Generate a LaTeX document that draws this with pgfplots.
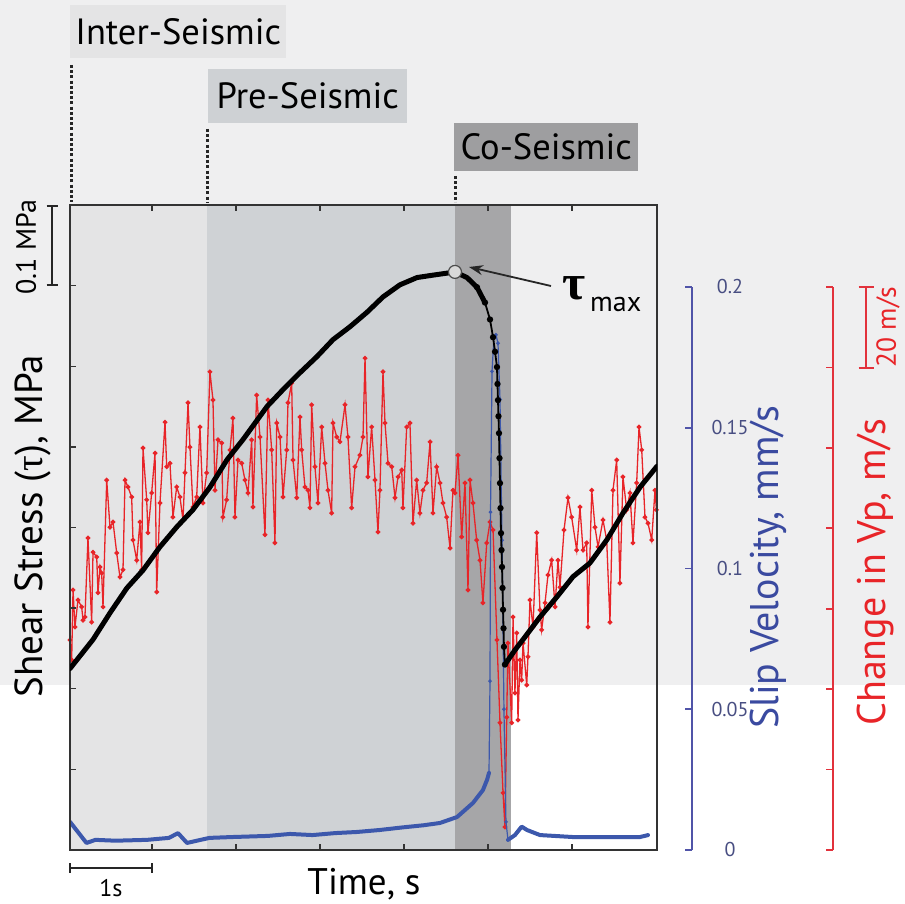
\documentclass[border=0pt]{standalone}
\usepackage{pgfplots}
\pgfplotsset{compat=1.18}
\usepackage{fontspec}
\setmainfont{PT Sans}
\newfontfamily\grk{Liberation Serif}
\usetikzlibrary{arrows.meta}
\definecolor{bgband}{RGB}{239,239,240}
\definecolor{interC}{RGB}{228,228,229}
\definecolor{preC}{RGB}{207,210,213}
\definecolor{coC}{RGB}{166,166,168}
\definecolor{interBox}{RGB}{228,228,229}
\definecolor{preBox}{RGB}{206,209,212}
\definecolor{coBox}{RGB}{158,158,160}
\definecolor{redC}{RGB}{232,36,40}
\definecolor{blueC}{RGB}{60,88,172}
\definecolor{blueAx}{RGB}{80,84,168}
\definecolor{blueLab}{RGB}{58,74,160}
\definecolor{blueTick}{RGB}{72,78,130}
\definecolor{redAx}{RGB}{226,50,60}

\pgfplotstableread{
t v
0.024 52.2
0.044 47.2
0.060 64.6
0.083 55.4
0.119 62.1
0.163 60.4
0.179 57.1
0.202 57.9
0.238 77.5
0.282 56.6
0.298 74.0
0.342 72.8
0.357 63.9
0.381 70.3
0.401 68.8
0.417 60.4
0.461 91.9
0.500 80.2
0.536 81.5
0.580 73.8
0.619 67.8
0.655 69.6
0.679 91.9
0.714 90.2
0.758 87.7
0.774 77.0
0.818 72.0
0.857 81.5
0.877 69.6
0.893 99.9
0.937 87.0
0.952 78.8
0.996 88.7
1.036 98.6
1.056 64.1
1.095 86.2
1.155 106.3
1.175 95.2
1.214 96.1
1.250 82.7
1.294 90.2
1.333 87.7
1.369 82.0
1.393 93.7
1.429 111.1
1.452 100.1
1.488 85.2
1.532 87.7
1.571 105.1
1.607 86.2
1.651 93.7
1.690 118.8
1.726 111.8
1.750 89.4
1.786 101.9
1.830 101.1
1.845 82.7
1.889 87.0
1.929 99.4
1.964 107.3
1.988 82.7
2.024 96.9
2.068 96.1
2.107 91.9
2.143 88.7
2.187 101.9
2.202 85.2
2.246 113.0
2.286 102.6
2.345 78.3
2.381 111.8
2.425 99.4
2.464 76.3
2.485 106.1
2.524 102.6
2.560 87.7
2.604 99.4
2.619 111.1
2.663 116.0
2.679 96.9
2.723 87.5
2.762 107.6
2.782 99.4
2.821 90.2
2.857 89.4
2.881 85.0
2.901 110.6
2.940 95.2
2.976 86.2
3.020 105.1
3.060 96.1
3.095 89.4
3.139 83.7
3.155 106.1
3.199 102.6
3.238 101.4
3.298 110.6
3.333 102.6
3.377 85.0
3.417 95.2
3.476 98.1
3.512 102.6
3.536 122.2
3.571 92.7
3.615 105.1
3.655 91.9
3.690 79.0
3.714 89.4
3.750 118.8
3.774 106.1
3.810 96.1
3.854 95.2
3.893 87.5
3.929 92.7
3.973 94.4
3.988 85.0
4.032 105.1
4.071 106.1
4.107 81.2
4.151 91.9
4.190 83.7
4.226 89.4
4.270 91.2
4.310 101.4
4.345 83.7
4.389 95.2
4.429 91.2
4.464 86.2
4.508 82.7
4.548 75.0
4.583 89.4
4.607 88.7
4.643 98.1
4.687 77.8
4.726 91.2
4.762 64.6
4.786 91.9
4.821 86.2
4.865 77.0
4.905 72.0
4.940 61.4
4.985 76.3
5.024 81.5
5.060 79.5
5.107 52.2
5.143 31.6
5.179 14.2
5.202 5.7
5.223 33.0
5.238 51.4
5.282 31.6
5.298 57.9
5.321 39.0
5.342 53.9
5.357 32.3
5.381 47.2
5.401 42.2
5.417 51.4
5.461 41.0
5.476 48.0
5.500 62.1
5.536 55.4
5.580 78.8
5.619 59.6
5.639 54.7
5.679 61.4
5.714 68.3
5.758 72.0
5.798 60.4
5.833 72.0
5.857 65.3
5.905 79.5
5.952 87.5
5.996 82.7
6.056 74.5
6.095 85.2
6.131 74.5
6.175 76.3
6.190 55.4
6.235 89.4
6.274 80.2
6.310 75.3
6.369 82.0
6.413 77.0
6.452 56.6
6.488 89.4
6.532 96.9
6.571 66.3
6.607 92.7
6.651 84.5
6.690 88.7
6.726 76.3
6.770 91.2
6.798 105.1
6.830 99.4
6.869 82.7
6.905 81.2
6.949 77.0
6.988 89.4
7.005 84.5
}\redtable

\pgfplotstableread{
t s
0.024 0.225
0.298 0.261
0.500 0.294
0.702 0.325
0.893 0.347
1.095 0.376
1.298 0.401
1.488 0.422
1.690 0.450
1.893 0.484
2.083 0.509
2.167 0.521
2.369 0.550
2.560 0.571
2.762 0.592
2.964 0.612
3.155 0.633
3.357 0.649
3.560 0.667
3.750 0.686
3.952 0.701
4.155 0.710
4.345 0.713
4.548 0.716
4.607 0.717
4.750 0.710
4.869 0.698
4.964 0.679
}\blackA

\pgfplotstableread{
t s
4.869 0.698
4.964 0.679
5.024 0.658
5.060 0.636
5.084 0.618
5.107 0.599
5.113 0.578
5.119 0.558
5.125 0.538
5.131 0.517
5.137 0.486
5.143 0.455
5.149 0.424
5.155 0.393
5.161 0.372
5.167 0.351
5.173 0.325
5.179 0.298
5.185 0.275
5.190 0.252
5.202 0.230
}\blackB

\pgfplotstableread{
t s
5.202 0.230
5.321 0.248
5.417 0.261
5.619 0.289
5.821 0.314
6.012 0.339
6.214 0.356
6.417 0.385
6.607 0.418
6.810 0.450
7.012 0.476
}\blackC

\pgfplotstableread{
t v
0.024 0.0100
0.220 0.0025
0.327 0.0036
0.567 0.0033
0.940 0.0036
1.202 0.0043
1.310 0.0060
1.417 0.0025
1.579 0.0036
1.686 0.0043
1.952 0.0046
2.381 0.0050
2.643 0.0057
2.911 0.0053
3.179 0.0060
3.440 0.0064
3.710 0.0071
3.976 0.0080
4.238 0.0088
4.429 0.0096
4.631 0.0117
4.821 0.0167
4.940 0.0213
4.990 0.0250
5.012 0.0274
}\blueA

\pgfplotstableread{
t v
5.012 0.0274
5.024 0.060
5.030 0.120
5.048 0.170
5.071 0.182
5.095 0.183
5.119 0.180
5.143 0.160
5.167 0.110
5.190 0.050
5.214 0.010
5.238 0.0036
}\blueB

\pgfplotstableread{
t v
5.238 0.0036
5.321 0.0053
5.401 0.0083
5.464 0.0071
5.619 0.0053
6.012 0.0046
6.417 0.0046
6.810 0.0046
6.905 0.0053
}\blueC

\begin{document}
\begin{tikzpicture}[x=1pt,y=1pt]
\useasboundingbox (0,0) rectangle (905,904);
\fill[white] (0,0) rectangle (905,904);
\fill[bgband] (0,219) rectangle (905,904);

% phase label boxes
\node[fill=interBox, minimum width=216pt, minimum height=53pt, anchor=south west, inner sep=0] at (70,846) {\fontsize{36.5}{36.5}\selectfont Inter-Seismic};
\node[fill=preBox, minimum width=199pt, minimum height=54pt, anchor=south west, inner sep=0] at (208,781) {\fontsize{36.5}{36.5}\selectfont Pre-Seismic};
\node[fill=coBox, minimum width=184pt, minimum height=48pt, anchor=south west, inner sep=0] at (454,733) {\fontsize{36.5}{36.5}\selectfont Co-Seismic};
\draw[line width=3pt, dash pattern=on 3pt off 2.2pt, black!85] (71,839) -- (71,702);
\draw[line width=3pt, dash pattern=on 3pt off 2.2pt, black!85] (207,775) -- (207,702);
\draw[line width=3pt, dash pattern=on 3pt off 2.2pt, black!85] (455,728) -- (455,702);

% shaded phases + red series
\begin{axis}[at={(70pt,54pt)}, anchor=south west, width=587pt, height=645pt, scale only axis,
  xmin=0.024, xmax=7.012, ymin=0, ymax=160.25, axis lines=none]
\fill[interC] (axis cs:0.024,0) rectangle (axis cs:1.655,160.25);
\fill[preC] (axis cs:1.655,0) rectangle (axis cs:4.607,160.25);
\fill[coC] (axis cs:4.607,0) rectangle (axis cs:5.274,160.25);
\addplot[redC, line width=1.3pt, mark=*, mark size=1.7pt, mark options={fill=redC, draw=redC}] table[x=t, y=v] {\redtable};
\end{axis}

% slip velocity
\begin{axis}[at={(70pt,54pt)}, anchor=south west, width=587pt, height=645pt, scale only axis,
  xmin=0.024, xmax=7.012, ymin=0, ymax=0.2291, axis lines=none]
\addplot[blueC, line width=4pt, line join=round, line cap=round] table[x=t, y=v] {\blueA};
\addplot[blueC, line width=1.2pt, mark=*, mark size=1.2pt] table[x=t, y=v] {\blueB};
\addplot[blueC, line width=4pt, line join=round, line cap=round] table[x=t, y=v] {\blueC};
\end{axis}

% shear stress (main box)
\begin{axis}[at={(70pt,54pt)}, anchor=south west, width=587pt, height=645pt, scale only axis,
  xmin=0.024, xmax=7.012, ymin=0, ymax=0.8,
  xtick={1,2,3,4,5,6}, ytick={0.1,0.2,0.3,0.4,0.5,0.6,0.7},
  xticklabels={}, yticklabels={}, ytick pos=left, tick align=inside,
  major tick length=6pt, tick style={line width=1.3pt, black!80},
  axis line style={line width=1.8pt, black!80}]
\addplot[black, line width=5pt, line join=round, line cap=round] table[x=t, y=s] {\blackA};
\addplot[black, line width=1.8pt, mark=*, mark size=2.2pt] table[x=t, y=s] {\blackB};
\addplot[black, line width=5pt, line join=round, line cap=round] table[x=t, y=s] {\blackC};
\addplot[only marks, mark=*, mark size=6.5pt, mark options={fill=gray!30, draw=gray!60!black, line width=1.2pt}] coordinates {(4.607,0.717)};
\end{axis}

% slip velocity spine
\begin{axis}[at={(692pt,54pt)}, anchor=south east, width=20pt, height=563pt, scale only axis,
  xmin=0, xmax=1, ymin=0, ymax=0.2, axis x line=none, axis y line=right,
  axis line style={-, blueAx, line width=1.8pt},
  ytick={0,0.05,0.1,0.15,0.2}, yticklabels={0,0.05,0.1,0.15,0.2},
  tick align=inside, major tick length=7pt, tick style={blueAx, line width=1.8pt},
  yticklabel style={anchor=center, xshift=38pt, font=\fontsize{20}{20}\selectfont, text=blueTick}]
\end{axis}

% Vp spine
\begin{axis}[at={(833pt,54pt)}, anchor=south east, width=20pt, height=563pt, scale only axis,
  xmin=0, xmax=1, ymin=0, ymax=140, axis x line=none, axis y line=right,
  axis line style={-, redAx, line width=1.8pt},
  ytick={0,20,40,60,80,100,120,140}, yticklabels={},
  tick align=inside, major tick length=7pt, tick style={redAx, line width=1.8pt}]
\end{axis}

% axis titles
\node[rotate=90] at (33,378) {\fontsize{39}{39}\selectfont Shear Stress ({\grk τ}), MPa};
\node[anchor=base] at (364,9) {\fontsize{37}{37}\selectfont Time, s};
\node[rotate=90, text=blueLab] at (768,337) {\fontsize{40}{40}\selectfont Slip Velocity, mm/s};
\node[rotate=90, text=redC] at (875,332) {\fontsize{40}{40}\selectfont Change in Vp, m/s};

% scale bars
\draw[line width=1.8pt, black!85] (52,698) -- (52,619) (46.5,698) -- (57.5,698) (46.5,619) -- (57.5,619);
\node[rotate=90] at (26,657) {\fontsize{28}{28}\selectfont 0.1 MPa};
\draw[line width=1.8pt, black!85] (70,36) -- (152,36) (70,31) -- (70,41) (152,31) -- (152,41);
\node[anchor=base] at (111,7) {\fontsize{24}{24}\selectfont 1s};
\draw[line width=1.8pt, redAx] (866,617) -- (866,536) (858.5,617) -- (873.5,617) (858.5,536) -- (873.5,536);
\node[rotate=90, text=redC, inner sep=0] at (888,577) {\fontsize{27.5}{27.5}\selectfont 20 m/s};

% tau max annotation
\draw[line width=1.8pt, black!85, -{Stealth[length=14pt, width=10pt]}] (551,618) -- (469,637);
\node[anchor=base west, inner sep=0] at (562,604) {\fontsize{50}{50}\selectfont\grk\bfseries τ};
\node[anchor=base west, inner sep=0] at (590,592) {\fontsize{28}{28}\selectfont max};
\end{tikzpicture}
\end{document}
